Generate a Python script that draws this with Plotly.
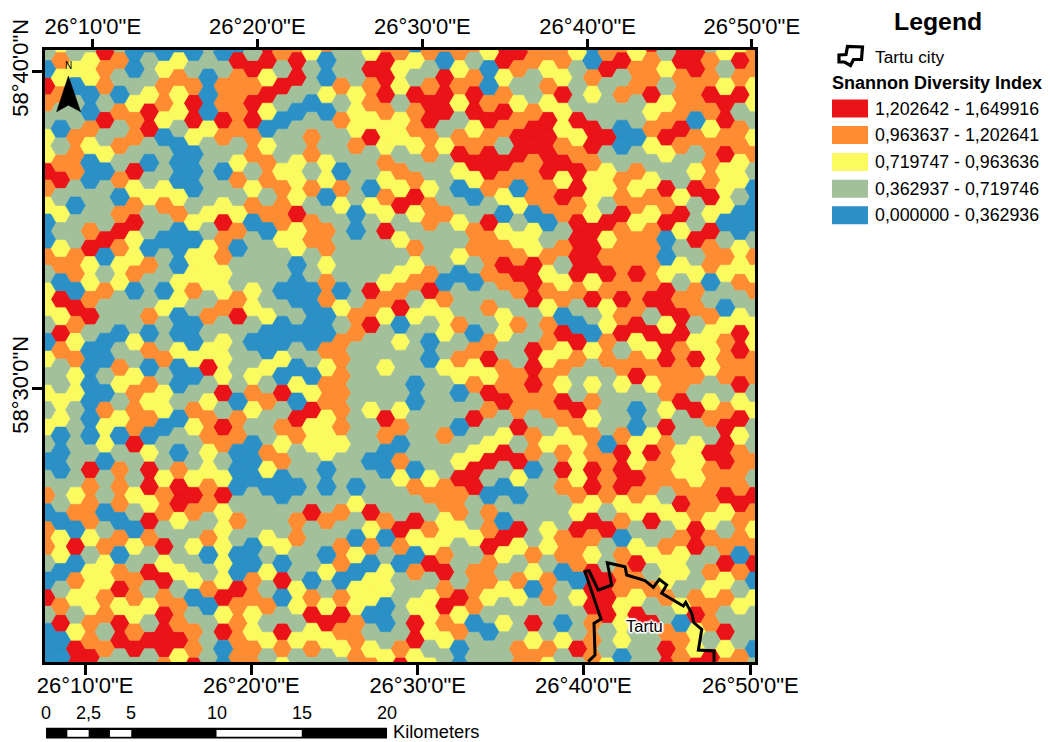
import plotly.graph_objects as go

# Diversity class of every hexagon, column by column (west to east), rows north to south
class_columns = [
"GBROGYYROY"+"BB"+"OGYYGBYGYGYG"+"BGOBOOGBRGBBB",
"YOYOGBGORGYGY"+"OBRYROGGYYB"+"B"+"BGGBYYBGORBB",
"GYBGGOOOGB"+"GGO"+"OBROYOYYGGG"+"GGYOBRBOYGYRR",
"GYYBBOYBBGGOR"+"YYORGBBBBBB"+"G"+"ROOOYGYYYOOR",
"ROOGRGYBGG"+"GRB"+"GOGGBBGBOYY"+"BGGBGOYYOOGOG",
"GOGBOGOGOBORO"+"YYGGBGOYGYB"+"G"+"OOOBOBORYRRG",
"BBGYOOGRYO"+"RYY"+"OBGGYGYOOOR"+"GGYGBYGOOYORG",
"BGGYRRGBGYGGB"+"OGGOBOBOYOB"+"Y"+"RRYROGRGYGRG",
"BYOOYBGGYO"+"GBG"+"GBYGGOGYYBG"+"GYOOGRYRORRRO",
"BYOYYGBBBYOBB"+"BYYBBYBBGBG"+"B"+"ORRYGGYGOORY",
"BGORRYBBBG"+"YBY"+"YOGBBYBGOYG"+"GYROGYGYBGOOR",
"GGBBBYGGGGYGY"+"YYGOGYRGYOO"+"Y"+"YOOGOBGOBGGG",
"BGOOROGBGY"+"ROO"+"YYOGYYYRGRO"+"GYRYYYYYRYRBB",
"BROOOOGYOGYOB"+"GGORGGGGBOO"+"B"+"BBGOGBBROOOO",
"GRORROOGYO"+"BGG"+"GYYGBGYOYGB"+"BBGGGBBOOYYOO",
"RRYRYBYOOGOBG"+"GGGYBBYGOGG"+"O"+"YBGGYGYGOGYG",
"OGRGBGGYOO"+"OY"+"GGBGBBYBRGOY"+"OBBGGYBRBGROY",
"ORRGBGGYYYRYY"+"BBBGBGBYBROG"+"GBGOOGGYYGYG",
"YGGBGOOGOGOO"+"GGBBBBGBYRYY"+"GGGRGGGBORYOG",
"OBBYBGGYYBGOO"+"YOOBBOYOOYYY"+"BBGOGBYGYRYG",
"GGOGOGGBOYGG"+"GGBYGOOOOOOY"+"GGGOGOOBOROYG",
"GGGYYYOGGGBBG"+"GGGOOGGGGGGG"+"GBYGBYBYYOOO",
"YROOYRGGBYGG"+"GGRORGGGGYGG"+"BGGRYOBYYBGYO",
"ORRROYYOYOYRG"+"GYOYGGYGGROB"+"BGGOBGYYBBGY",
"OYYGYYGOYRGY"+"GYORBYGGGYOB"+"OYGGROBGGGGOR",
"BYGROOYGORYGO"+"YOGYGGGBBGGG"+"BOGRYBOGYRRY",
"OGORROOGYOOG"+"GORYGBBGGGGG"+"GYOGOYRGYYYGY",
"OBRRRGYGGGOGG"+"GBOYYGYGGGOG"+"GOOYYOROROYG",
"OYOYGORYBGYG"+"YBGGOGOYBGBG"+"YROOYGGGRYOBB",
"OGORRYORYBGOO"+"GBGGBOYOGRGY"+"RRGGYGOOOBGG",
"YBBORORROGRO"+"OOGOGORYROGY"+"RGBOOROOYGBGG",
"RRYOROGROYBYO"+"ROGYYGOORGYR"+"GBGBRYGYGYGG",
"ROGYORROBYGY"+"OROGOGGOOORG"+"RYBGRYGOYGGOO",
"OOGGORROOOBYY"+"RRRGGRRROGOO"+"BGGGGOYBGRYO",
"OYOYRRRROOBG"+"OYOYOOYOOOGY"+"GGGGYYGOOGGOY",
"OOYRYYORYROGO"+"GYOBRYOYROYO"+"ROGGOOBGGBYG",
"YGGGRYORRORR"+"RROGBROGGROY"+"YYOYROOBYGGRG",
"BBOYGRROYYYRR"+"RYRGBYGYOYOO"+"RRYROYRRROOO",
"ORGGGRGYYGRY"+"OROYYOOGGGGB"+"OOOGRGGRRRGGY",
"ORGOGBBGOOROO"+"OORORGOYGGOR"+"RRYOBOOOYYYB",
"YOOGGBGOYOYO"+"OROORYORGBBY"+"YROYGYROYRGGG",
"ROORYOYGYOYOO"+"OORGRYOYGGYR"+"OOYRGYGOGRGG",
"GYGYORYGRORB"+"BYRRYRROOYRO"+"OOGYGOYYOGORR",
"RROOOROGGYRYG"+"YGORROOORGGY"+"YORYOYYGYBOO",
"RROOBOGYRGGR"+"GYOOGYROGRGY"+"YYOORRGGORYYR",
"GOOROYOOORYRO"+"OBGOYYYGYOGR"+"OOOYOGOYOOGR",
"YGYRRORYYYBG"+"OYGBYOOOGORR"+"RORYGORYOGRYO",
"YRORGOOYYGBBY"+"YOGYRRORYRYO"+"OOROOBOGYGGO",
"OOYYGYOGBBBG"+"OYOGYYOOGYGG"+"OGROYORBYGGBG",
]

class_keys = ["R", "O", "Y", "G", "B"]
class_labels = ["1,202642 - 1,649916", "0,963637 - 1,202641", "0,719747 - 0,963636",
                "0,362937 - 0,719746", "0,000000 - 0,362936"]
class_colors = ["#E91318", "#FD8C33", "#FBFA5F", "#A2C19B", "#2A90C6"]

# Axis ticks (km from the map's lower-left corner)
bottom_tick_km = [2.35, 12.10, 21.86, 31.58, 41.37]
top_tick_km = [2.80, 12.45, 22.13, 31.83, 41.45]
lon_labels = ['26°10\'0"E', '26°20\'0"E', '26°30\'0"E', '26°40\'0"E', '26°50\'0"E']
left_tick_km = [34.66, 16.07]
lat_labels = ['58°40\'0"N', '58°30\'0"N']

# Tartu boundary (km)
tartu_x = [31.86, 32.26, 32.20, 32.61, 31.67, 31.91, 32.45, 33.24, 32.98, 34.02, 34.12, 35.19,
           35.68, 36.03, 36.46, 36.17, 37.44, 37.58, 37.93, 38.06, 38.52, 38.32, 39.24, 39.24]
tartu_y = [0.02, 0.41, 2.27, 2.52, 5.30, 5.35, 4.22, 4.52, 5.82, 5.59, 5.10, 4.77,
           4.38, 4.85, 4.52, 4.03, 3.28, 3.50, 2.86, 2.30, 1.92, 0.70, 0.65, 0.02]

# North arrow (km)
arrow_x = [1.37, 0.68, 1.37, 2.09, 1.37]
arrow_y = [34.37, 32.27, 32.66, 32.27, 34.37]

# Scale bar
scale_labels = ["0", "2,5", "5", "10", "15", "20"]
scale_km = [0, 2.5, 5, 10, 15, 20]
scale_white = [(1.25, 2.5), (3.75, 5), (10, 15)]

FONT = "Liberation Sans, Arial, sans-serif"
W, H = 1050, 742
L, R, T, B = 45, 755, 50, 662
PX_PER_KM = 17.05
X_MAX = (R - L) / PX_PER_KM
Y_MAX = (B - T) / PX_PER_KM
X0 = 0.05
Y0 = (B - 52) / PX_PER_KM
COL_STEP = 14.77 / PX_PER_KM
APOTHEM = 0.5
SIDE = 2 * APOTHEM / 3 ** 0.5
HEX_DX = [SIDE, SIDE / 2, -SIDE / 2, -SIDE, -SIDE / 2, SIDE / 2, SIDE]
HEX_DY = [0, APOTHEM, APOTHEM, 0, -APOTHEM, -APOTHEM, 0]


def px(x):
    return (x - L) / (R - L)


def py(y):
    return (B - y) / (B - T)


fig = go.Figure()

for key, color, label in zip(class_keys, class_colors, class_labels):
    xs, ys = [], []
    for c, col in enumerate(class_columns):
        for r, k in enumerate(col):
            if k != key:
                continue
            cx = X0 + c * COL_STEP
            cy = Y0 - r + (0.5 if c % 2 else 0)
            xs += [cx + d for d in HEX_DX] + [None]
            ys += [cy + d for d in HEX_DY] + [None]
    fig.add_trace(go.Scatter(x=xs, y=ys, mode="lines", fill="toself", fillcolor=color,
                             line=dict(color=color, width=0.6), name=label,
                             hoverinfo="skip", showlegend=False))

fig.add_trace(go.Scatter(x=tartu_x, y=tartu_y, mode="lines", line=dict(color="black", width=3),
                         hoverinfo="skip", showlegend=False))
fig.add_trace(go.Scatter(x=arrow_x, y=arrow_y, mode="lines", fill="toself", fillcolor="black",
                         line=dict(color="black", width=0.5), hoverinfo="skip", showlegend=False))
fig.add_trace(go.Scatter(x=[None], y=[None], xaxis="x2", showlegend=False, hoverinfo="skip"))

tick_font = dict(family=FONT, size=22, color="black")
fig.update_layout(
    width=W, height=H, autosize=False, paper_bgcolor="white", plot_bgcolor="white",
    margin=dict(l=L, r=W - R, t=T, b=H - B, autoexpand=False), showlegend=False,
    xaxis=dict(range=[0, X_MAX], automargin=False, showgrid=False, zeroline=False, tickmode="array",
               tickvals=bottom_tick_km, ticktext=lon_labels, ticks="outside", ticklen=10, tickwidth=2.5,
               tickcolor="black", tickfont=tick_font, tickangle=0, showline=True, mirror=True,
               linecolor="black", linewidth=3, ticklabelstandoff=-8),
    xaxis2=dict(range=[0, X_MAX], automargin=False, overlaying="x", side="top", showgrid=False, zeroline=False,
                tickmode="array", tickvals=top_tick_km, ticktext=lon_labels, ticks="outside", ticklen=10,
                tickwidth=2.5, tickcolor="black", tickfont=tick_font, tickangle=0, showline=False,
                ticklabelstandoff=-4),
    yaxis=dict(range=[0, Y_MAX], automargin=False, showgrid=False, zeroline=False, tickmode="array",
               tickvals=left_tick_km, ticktext=lat_labels, ticks="outside", ticklen=10, tickwidth=2.5,
               tickcolor="black", tickfont=tick_font, tickangle=-90, showline=True, mirror=True,
               linecolor="black", linewidth=3, ticklabelstandoff=-5),
)

shapes = []
annots = []


def text(x, y, s, size, bold=False, anchor="left", xref="paper", color="black", shadow=None):
    f = dict(family=FONT, size=size, color=color, weight="bold" if bold else "normal")
    if shadow:
        f["shadow"] = shadow
    annots.append(dict(x=x, y=py(y), xref=xref, yref="paper", text=s, showarrow=False, xanchor=anchor,
                       yanchor="middle", font=f, borderpad=0))


text(px(937.5), 22, "Legend", 24.8, bold=True, anchor="center")
text(px(874), 57, "Tartu city", 17.3)
text(px(831), 83, "Snannon Diversity Index", 18, bold=True)

icon_x = [839, 846, 847.5, 862.5, 861.5, 853.5, 850.5, 844.5, 839]
icon_y = [55, 54.5, 46.5, 47, 59.5, 59.5, 65.5, 62, 62]
path = "M " + " L ".join(f"{px(a):.5f},{py(b):.5f}" for a, b in zip(icon_x, icon_y)) + " Z"
shapes.append(dict(type="path", path=path, xref="paper", yref="paper", line=dict(color="black", width=3.2),
                   fillcolor="white"))

swatch_tops = [99.5, 126, 153, 179.7, 206.3]
for top, color, label in zip(swatch_tops, class_colors, class_labels):
    shapes.append(dict(type="rect", xref="paper", yref="paper", x0=px(832), x1=px(868), y0=py(top),
                       y1=py(top + 18), fillcolor=color, line=dict(width=0)))
    text(px(874), top + 9, label, 17.8)

# Scale bar drawn in map units
SB0 = 0.06
shapes.append(dict(type="rect", xref="x", yref="paper", x0=SB0, x1=SB0 + 20, y0=py(738.5), y1=py(727.7),
                   fillcolor="black", line=dict(width=0)))
for a, b in scale_white:
    shapes.append(dict(type="rect", xref="x", yref="paper", x0=SB0 + a, x1=SB0 + b, y0=py(736.8), y1=py(730),
                       fillcolor="white", line=dict(width=0)))
for k, s in zip(scale_km, scale_labels):
    text(SB0 + k, 713.3, s, 18, anchor="center", xref="x")
text(px(392), 731.5, "Kilometers", 18.3)

text(px(68.5), 65.5, "N", 10, anchor="center")
halo = ",".join(f"{a}px {b}px 1px #fff" for a, b in [(-1, -1), (1, -1), (-1, 1), (1, 1), (0, -2), (0, 2), (-2, 0), (2, 0)])
text(px(644), 625.5, "Tartu", 16.5, anchor="center", shadow=halo)

fig.update_layout(shapes=shapes, annotations=annots)

assert all(len(c) == 37 for c in class_columns), [len(c) for c in class_columns]
fig.write_html("out.html", config={"displayModeBar": False},
               post_script="document.body.style.margin='0';")
